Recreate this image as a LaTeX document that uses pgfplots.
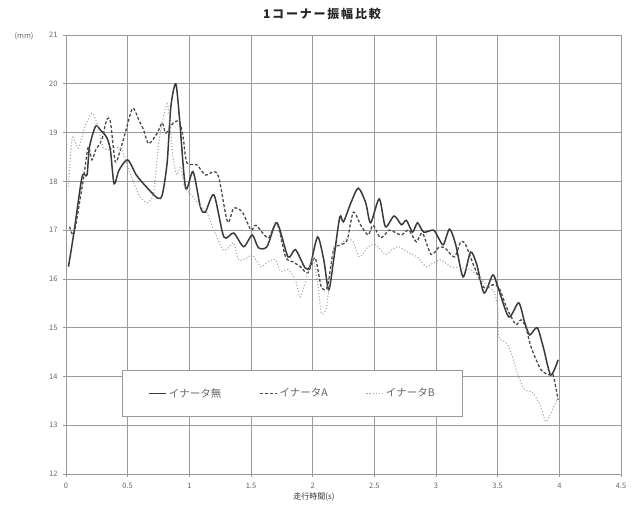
\documentclass[border=0pt]{standalone}
\usepackage{fontspec}
\setmainfont{Noto Sans CJK JP}
\usepackage{pgfplots}
\pgfplotsset{compat=1.18}
\definecolor{gridc}{HTML}{9A9A9A}
\definecolor{solidc}{HTML}{3A3A3A}
\definecolor{dashc}{HTML}{4A4A4A}
\definecolor{dotc}{HTML}{A8A8A8}
\definecolor{labc}{HTML}{666666}
\begin{document}
\begin{tikzpicture}[x=1pt,y=1pt]
\path[use as bounding box] (0,0) rectangle (640,511);
\begin{axis}[
  at={(66pt,37pt)}, anchor=south west,
  scale only axis, width=555pt, height=439pt,
  xmin=0, xmax=4.5, ymin=12, ymax=21,
  xtick={0,0.5,1,1.5,2,2.5,3,3.5,4,4.5},
  ytick={12,13,14,15,16,17,18,19,20,21},
  grid=major,
  grid style={gridc, line width=0.7pt},
  axis line style={gridc, line width=0.7pt},
  tick style={gridc, line width=0.6pt},
  tick align=outside, major tick length=3pt,
  xtick pos=bottom, ytick pos=left,
  /pgf/number format/assume math mode=true,
  tick label style={font=\fontsize{7.5}{9}\selectfont, text=labc},
  xticklabel style={yshift=-3pt},
  yticklabel style={xshift=-2pt},
  legend style={at={(0.1009,0.1298)}, anchor=south west,
    draw=gridc, line width=0.8pt, fill=white,
    font=\fontsize{10.5}{12}\selectfont, text=labc,
    inner xsep=26pt, inner ysep=16pt,
    /tikz/every even column/.append style={column sep=36pt}},
  legend columns=3,
  legend cell align=left,
]
\addplot[solidc, line width=1.5pt, smooth, tension=0.45] coordinates {
(0.02,16.25) (0.065,16.96) (0.13,18.09) (0.17,18.13) (0.19,18.7) (0.24,19.13) (0.28,19.05) (0.33,18.9) (0.36,18.64) (0.39,17.95) (0.43,18.23) (0.50,18.44) (0.57,18.13) (0.65,17.89) (0.74,17.66) (0.78,17.72) (0.82,18.38) (0.85,19.53) (0.89,20.0) (0.92,19.3) (0.97,17.86) (1.03,18.2) (1.09,17.47) (1.13,17.37) (1.2,17.72) (1.28,16.86) (1.36,16.94) (1.44,16.66) (1.51,16.9) (1.56,16.64) (1.63,16.66) (1.71,17.15) (1.80,16.45) (1.86,16.6) (1.94,16.22) (1.98,16.27) (2.04,16.86) (2.09,16.39) (2.13,15.77) (2.17,16.39) (2.22,17.27) (2.25,17.17) (2.31,17.56) (2.37,17.86) (2.43,17.56) (2.47,17.15) (2.54,17.64) (2.59,17.07) (2.66,17.29) (2.72,17.11) (2.76,17.2) (2.81,16.96) (2.85,17.15) (2.90,16.96) (2.98,17.0) (3.02,16.84) (3.06,16.7) (3.11,17.02) (3.16,16.7) (3.22,16.04) (3.28,16.55) (3.33,16.3) (3.39,15.71) (3.46,16.08) (3.5,15.85) (3.59,15.22) (3.67,15.51) (3.72,15.1) (3.76,14.85) (3.82,15.0) (3.87,14.6) (3.93,14.03) (3.99,14.34)
};
\addlegendentry{イナータ無}
\addplot[dashc, line width=1.3pt, dash pattern=on 3pt off 2pt, smooth, tension=0.45] coordinates {
(0.03,17.07) (0.065,16.94) (0.14,18.03) (0.18,18.7) (0.21,18.44) (0.24,18.64) (0.29,18.85) (0.33,19.26) (0.36,19.22) (0.40,18.4) (0.44,18.64) (0.48,18.99) (0.54,19.5) (0.59,19.26) (0.63,19.05) (0.67,18.77) (0.74,18.99) (0.78,19.2) (0.81,18.99) (0.87,19.2) (0.92,19.22) (0.95,18.9) (0.98,18.38) (1.06,18.34) (1.13,18.13) (1.2,18.2) (1.24,18.07) (1.31,17.17) (1.36,17.45) (1.43,17.37) (1.50,17.0) (1.54,17.1) (1.64,16.84) (1.71,17.15) (1.78,16.45) (1.84,16.35) (1.90,16.25) (1.96,16.12) (2.02,16.43) (2.07,15.84) (2.12,15.84) (2.17,16.6) (2.23,16.7) (2.28,16.8) (2.33,17.37) (2.39,17.1) (2.45,16.9) (2.49,17.1) (2.55,16.84) (2.62,17.0) (2.67,16.95) (2.72,16.9) (2.78,17.0) (2.84,16.76) (2.89,16.94) (2.96,16.5) (3.02,16.64) (3.07,16.64) (3.15,16.45) (3.2,16.76) (3.24,16.7) (3.31,16.25) (3.39,15.82) (3.46,15.88) (3.51,15.82) (3.57,15.43) (3.61,15.22) (3.65,15.06) (3.69,15.16) (3.73,15.0) (3.77,14.61) (3.85,14.14) (3.92,14.03) (3.95,14.03) (3.99,13.52)
};
\addlegendentry{イナータA}
\addplot[dotc, line width=1.1pt, dotted, smooth, tension=0.4] coordinates {
(0.02,17.89) (0.05,18.89) (0.1,18.68) (0.15,19.1) (0.21,19.4) (0.25,19.2) (0.30,18.7) (0.35,18.65) (0.40,18.7) (0.45,18.65) (0.5,18.3) (0.55,17.97) (0.60,17.68) (0.66,17.56) (0.71,17.76) (0.75,18.75) (0.79,19.32) (0.82,19.59) (0.84,19.3) (0.87,18.44) (0.90,18.13) (0.93,18.3) (0.96,17.9) (1.03,17.68) (1.1,17.47) (1.14,17.37) (1.2,17.0) (1.27,16.6) (1.31,16.62) (1.36,16.74) (1.40,16.39) (1.47,16.43) (1.51,16.5) (1.58,16.25) (1.64,16.35) (1.70,16.39) (1.74,16.15) (1.80,16.19) (1.86,15.98) (1.90,15.63) (1.96,16.12) (2.0,16.43) (2.04,15.92) (2.07,15.3) (2.11,15.4) (2.15,16.18) (2.17,16.64) (2.21,16.66) (2.28,16.84) (2.33,16.75) (2.38,16.45) (2.45,16.66) (2.51,16.7) (2.59,16.5) (2.64,16.6) (2.70,16.66) (2.78,16.53) (2.85,16.45) (2.92,16.25) (2.98,16.33) (3.04,16.39) (3.12,16.25) (3.2,16.23) (3.28,16.19) (3.37,15.98) (3.43,15.82) (3.47,15.75) (3.50,15.43) (3.51,14.81) (3.57,14.69) (3.61,14.48) (3.67,13.99) (3.72,13.73) (3.79,13.66) (3.85,13.38) (3.89,13.07) (3.94,13.3) (3.99,13.56)
};
\addlegendentry{イナータB}
\end{axis}
\node[font=\fontsize{12}{14}\selectfont\bfseries\addfontfeatures{LetterSpace=15}, text=black!85] at (322,497) {1コーナー振幅比較};
\node[font=\fontsize{7.5}{9}\selectfont, text=labc] at (24,475) {(mm)};
\node[font=\fontsize{8}{9}\selectfont, text=black!80] at (314,14) {走行時間(s)};
\end{tikzpicture}
\end{document}
